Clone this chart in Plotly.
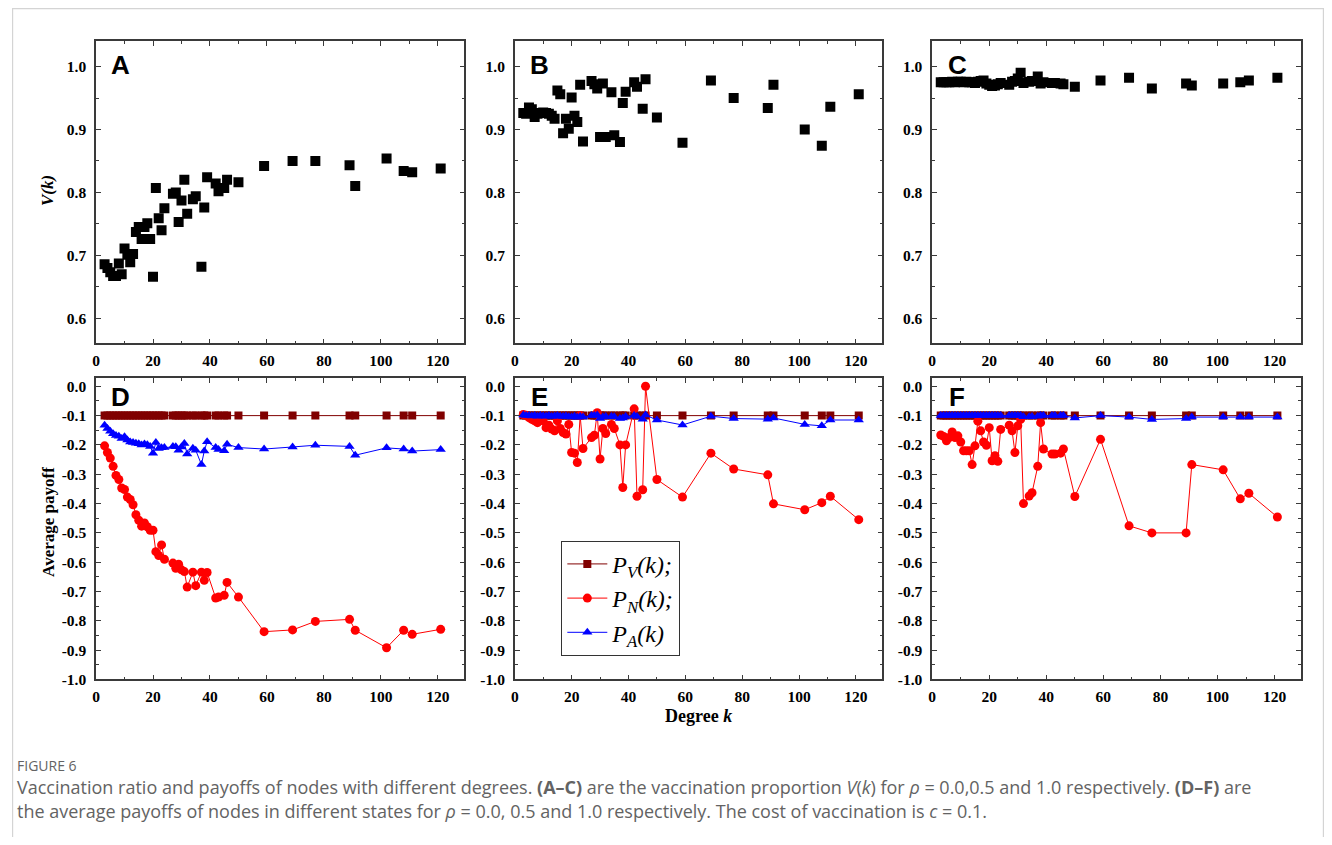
import plotly.graph_objects as go

K = [3, 4, 5, 6, 7, 8, 9, 10, 11, 12, 13, 14, 15, 16, 17, 18, 19, 20, 21, 22, 23, 24,
     27, 28, 29, 30, 31, 32, 34, 35, 37, 38, 39, 42, 43, 45, 46,
     50, 59, 69, 77, 89, 91, 102, 108, 111, 121]

V_A = [0.686, 0.680, 0.673, 0.667, 0.667, 0.687, 0.670, 0.711, 0.701, 0.689, 0.702, 0.737,
       0.745, 0.726, 0.745, 0.751, 0.726, 0.666, 0.807, 0.759, 0.740, 0.775,
       0.798, 0.800, 0.753, 0.787, 0.820, 0.766, 0.789, 0.794, 0.682, 0.776, 0.824,
       0.814, 0.802, 0.807, 0.820, 0.816, 0.842, 0.850, 0.850, 0.843, 0.810, 0.854,
       0.834, 0.832, 0.838]
V_B = [0.926, 0.925, 0.935, 0.932, 0.920, 0.925, 0.926, 0.927, 0.926, 0.925, 0.922, 0.917,
       0.962, 0.956, 0.894, 0.917, 0.901, 0.951, 0.922, 0.912, 0.971, 0.881,
       0.977, 0.972, 0.965, 0.888, 0.973, 0.888, 0.959, 0.891, 0.880, 0.942, 0.960,
       0.975, 0.968, 0.933, 0.980, 0.919, 0.879, 0.978, 0.950, 0.934, 0.971, 0.900,
       0.874, 0.936, 0.956]
V_C = [0.975, 0.975, 0.975, 0.975, 0.976, 0.975, 0.976, 0.976, 0.975, 0.976, 0.975, 0.975,
       0.974, 0.976, 0.977, 0.978, 0.973, 0.971, 0.969, 0.970, 0.972, 0.974,
       0.971, 0.976, 0.977, 0.981, 0.990, 0.974, 0.976, 0.977, 0.984, 0.973, 0.975,
       0.974, 0.974, 0.973, 0.972, 0.968, 0.978, 0.982, 0.965, 0.973, 0.970, 0.973,
       0.975, 0.978, 0.982]

PV = [-0.1] * len(K)

PN_D = [-0.203, -0.226, -0.245, -0.273, -0.304, -0.318, -0.347, -0.352, -0.378, -0.386,
        -0.404, -0.438, -0.457, -0.477, -0.466, -0.479, -0.491, -0.491, -0.564, -0.577,
        -0.541, -0.590, -0.603, -0.621, -0.607, -0.626, -0.632, -0.685, -0.634, -0.680,
        -0.634, -0.662, -0.635, -0.722, -0.719, -0.713, -0.669, -0.719, -0.837, -0.831,
        -0.802, -0.795, -0.832, -0.892, -0.832, -0.846, -0.829]
PA_D = [-0.133, -0.144, -0.153, -0.162, -0.168, -0.170, -0.178, -0.172, -0.183, -0.190,
        -0.192, -0.194, -0.196, -0.200, -0.197, -0.199, -0.205, -0.228, -0.192, -0.212,
        -0.210, -0.209, -0.205, -0.206, -0.218, -0.207, -0.195, -0.231, -0.211, -0.218,
        -0.267, -0.221, -0.189, -0.209, -0.216, -0.220, -0.198, -0.209, -0.214, -0.207,
        -0.201, -0.205, -0.235, -0.210, -0.214, -0.221, -0.216]

PN_E = [-0.096, -0.099, -0.107, -0.113, -0.118, -0.124, -0.113, -0.118, -0.141, -0.133,
        -0.146, -0.152, -0.118, -0.144, -0.158, -0.163, -0.130, -0.226, -0.228, -0.260,
        -0.100, -0.212, -0.175, -0.167, -0.090, -0.248, -0.144, -0.161, -0.130, -0.144,
        -0.200, -0.345, -0.200, -0.077, -0.375, -0.353, 0.000, -0.318, -0.378, -0.228,
        -0.282, -0.302, -0.401, -0.421, -0.397, -0.375, -0.455]
PA_E = [-0.098, -0.100, -0.100, -0.101, -0.100, -0.102, -0.100, -0.101, -0.102, -0.100,
        -0.103, -0.101, -0.100, -0.102, -0.103, -0.101, -0.104, -0.105, -0.102, -0.106,
        -0.103, -0.105, -0.100, -0.100, -0.098, -0.110, -0.105, -0.103, -0.103, -0.104,
        -0.110, -0.108, -0.103, -0.100, -0.103, -0.112, -0.098, -0.115, -0.132, -0.102,
        -0.110, -0.112, -0.108, -0.130, -0.135, -0.115, -0.115]

PN_F = [-0.166, -0.171, -0.186, -0.175, -0.156, -0.175, -0.169, -0.190, -0.220, -0.220,
        -0.220, -0.267, -0.203, -0.119, -0.152, -0.190, -0.201, -0.141, -0.254, -0.237,
        -0.256, -0.147, -0.133, -0.152, -0.226, -0.135, -0.113, -0.400, -0.374, -0.363,
        -0.273, -0.124, -0.214, -0.231, -0.231, -0.228, -0.214, -0.376, -0.181, -0.476,
        -0.500, -0.500, -0.267, -0.285, -0.384, -0.365, -0.446]
PA_F = [-0.100, -0.100, -0.100, -0.100, -0.100, -0.100, -0.100, -0.100, -0.100, -0.100,
        -0.100, -0.100, -0.100, -0.100, -0.100, -0.100, -0.100, -0.100, -0.100, -0.100,
        -0.100, -0.100, -0.100, -0.100, -0.100, -0.100, -0.100, -0.104, -0.104, -0.103,
        -0.102, -0.100, -0.100, -0.100, -0.100, -0.100, -0.100, -0.108, -0.100, -0.105,
        -0.113, -0.110, -0.105, -0.105, -0.105, -0.105, -0.105]

PANEL_LETTERS = ["A", "B", "C", "D", "E", "F"]
X_TICKS = [0, 20, 40, 60, 80, 100, 120]
Y_TOP_TICKS = [0.6, 0.7, 0.8, 0.9, 1.0]
Y_BOT_TICKS = [0.0, -0.1, -0.2, -0.3, -0.4, -0.5, -0.6, -0.7, -0.8, -0.9, -1.0]

# page body has an 8px margin; work in reference-pixel coordinates and shift
OFF = 8
W, H = 1332 - 2 * OFF, 845 - 2 * OFF
def px(x):
    return (x - OFF) / W
def py(y):
    return 1 - (y - OFF) / H

XCOLS = [(92.3, 461.7), (512.3, 881.0), (931.0, 1301.0)]
YTOP = (41.7, 346.7)
YBOT = (381.7, 686.0)

fig = go.Figure()

AX_COLOR = "#3a3a3a"
TICKFONT = dict(family="Liberation Serif", size=15.5, color="black", weight="bold")

def axis_common():
    return dict(showline=True, linecolor=AX_COLOR, linewidth=1.5, mirror="allticks",
                ticks="inside", ticklen=5, tickwidth=1.3, tickcolor=AX_COLOR,
                showgrid=False, zeroline=False, tickfont=TICKFONT)

def fmt(v):
    return f"{v:.1f}"

layout_axes = {}
for i in range(6):
    n = i + 1
    col = i % 3
    top = i < 3
    xd = [px(XCOLS[col][0]), px(XCOLS[col][1])]
    yr = YTOP if top else YBOT
    yd = [py(yr[1]), py(yr[0])]
    xa = axis_common()
    xa.update(domain=xd, range=[0, 129.3], tickvals=X_TICKS, ticktext=[str(t) for t in X_TICKS],
              anchor=f"y{n}", ticklabelstandoff=2,
              minor=dict(ticks="inside", ticklen=3, tickcolor=AX_COLOR, dtick=10, tick0=0))
    ya = axis_common()
    ticks = Y_TOP_TICKS if top else Y_BOT_TICKS
    ya.update(range=[0.56, 1.04] if top else [-1.0, 0.028],
              tickvals=ticks, ticktext=[fmt(t) for t in ticks], ticklabelstandoff=5,
              minor=dict(ticks="inside", ticklen=3, tickcolor=AX_COLOR, dtick=0.05, tick0=0))
    ya.update(domain=yd, anchor=f"x{n}")
    layout_axes["xaxis" if n == 1 else f"xaxis{n}"] = xa
    layout_axes["yaxis" if n == 1 else f"yaxis{n}"] = ya

def ax(n):
    return ("x" if n == 1 else f"x{n}"), ("y" if n == 1 else f"y{n}")

for n, vals in zip([1, 2, 3], [V_A, V_B, V_C]):
    xa, ya = ax(n)
    fig.add_trace(go.Scatter(x=K, y=vals, mode="markers", xaxis=xa, yaxis=ya,
                             marker=dict(symbol="square", size=10, color="black"),
                             showlegend=False))

for n, pn, pa in zip([4, 5, 6], [PN_D, PN_E, PN_F], [PA_D, PA_E, PA_F]):
    xa, ya = ax(n)
    show = (n == 5)
    fig.add_trace(go.Scatter(x=K, y=PV, mode="lines+markers", xaxis=xa, yaxis=ya,
                             line=dict(color="#800000", width=1),
                             marker=dict(symbol="square", size=8, color="#800000"),
                             name="<i>P<sub>V</sub>(k);</i>", showlegend=show, legendrank=1))
    fig.add_trace(go.Scatter(x=K, y=pn, mode="lines+markers", xaxis=xa, yaxis=ya,
                             line=dict(color="#FF0000", width=1),
                             marker=dict(symbol="circle", size=9, color="#FF0000"),
                             name="<i>P<sub>N</sub>(k);</i>", showlegend=show, legendrank=2))
    fig.add_trace(go.Scatter(x=K, y=pa, mode="lines+markers", xaxis=xa, yaxis=ya,
                             line=dict(color="#0000FF", width=1),
                             marker=dict(symbol="triangle-up", size=9, color="#0000FF"),
                             name="<i>P<sub>A</sub>(k)</i>", showlegend=show, legendrank=3))

annotations = []
letter_pos = [(117, 66), (537, 66), (956, 66), (117, 401), (537, 401), (956, 401)]
for letter, (lx, ly) in zip(PANEL_LETTERS, letter_pos):
    annotations.append(dict(text=f"<b>{letter}</b>", x=px(lx), y=py(ly), xref="paper", yref="paper",
                            showarrow=False, xanchor="center", yanchor="middle",
                            font=dict(family="Liberation Sans", size=26, color="black")))

annotations.append(dict(text="<b><i>V(k)</i></b>", x=px(43), y=py(192), xref="paper", yref="paper",
                        showarrow=False, textangle=-90, xanchor="center", yanchor="middle",
                        font=dict(family="Liberation Serif", size=17, color="black")))
annotations.append(dict(text="<b>Average payoff</b>", x=px(45), y=py(527), xref="paper", yref="paper",
                        showarrow=False, textangle=-90, xanchor="center", yanchor="middle",
                        font=dict(family="Liberation Serif", size=17, color="black")))
annotations.append(dict(text="<b>Degree <i>k</i></b>", x=px(697), y=py(723), xref="paper", yref="paper",
                        showarrow=False, xanchor="center", yanchor="middle",
                        font=dict(family="Liberation Serif", size=18, color="black")))

CAP_COLOR = "#636363"
annotations.append(dict(text="FIGURE 6", x=px(11), y=py(773), xref="paper", yref="paper",
                        showarrow=False, xanchor="left", yanchor="middle",
                        font=dict(family="Open Sans", size=14, color=CAP_COLOR)))
cap1 = ("Vaccination ratio and payoffs of nodes with different degrees. <b>(A–C)</b> are the vaccination "
        "proportion <i>V</i>(<i>k</i>) for <i>ρ</i> = 0.0,0.5 and 1.0 respectively. <b>(D–F)</b> are")
cap2 = ("the average payoffs of nodes in different states for <i>ρ</i> = 0.0, 0.5 and 1.0 respectively. "
        "The cost of vaccination is <i>c</i> = 0.1.")
annotations.append(dict(text=cap1, x=px(11), y=py(795), xref="paper", yref="paper",
                        showarrow=False, xanchor="left", yanchor="middle",
                        font=dict(family="Open Sans", size=18, color=CAP_COLOR)))
annotations.append(dict(text=cap2, x=px(11), y=py(819), xref="paper", yref="paper",
                        showarrow=False, xanchor="left", yanchor="middle",
                        font=dict(family="Open Sans", size=18, color=CAP_COLOR)))

shapes = [dict(type="rect", xref="paper", yref="paper", x0=px(8.6), x1=px(1323.4), y0=py(870), y1=py(8.6),
               line=dict(color="#d4d4d4", width=1.2), layer="below")]

fig.update_layout(
    width=W, height=H, autosize=False,
    margin=dict(l=0, r=0, t=0, b=0),
    paper_bgcolor="white", plot_bgcolor="white",
    annotations=annotations, shapes=shapes,
    legend=dict(x=px(559), y=py(546), xanchor="left", yanchor="top",
                bordercolor="#333333", borderwidth=1, bgcolor="white",
                font=dict(family="Liberation Serif", size=24, color="black"),
                tracegroupgap=0, itemwidth=40),
    **layout_axes,
)

fig.write_html("out.html")
